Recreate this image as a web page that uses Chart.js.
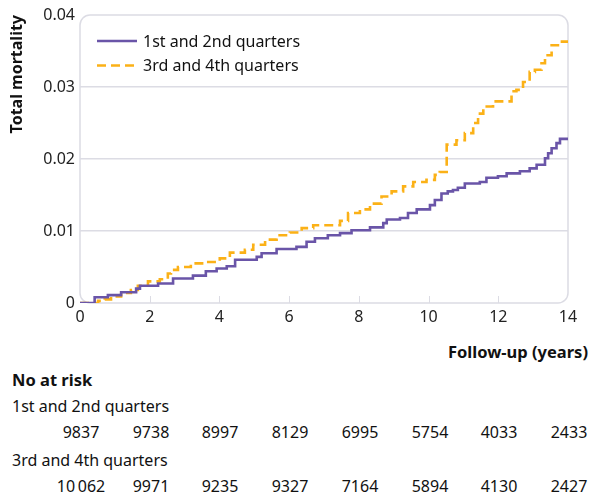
<!DOCTYPE html>
<html>
<head>
<meta charset="utf-8">
<script src="https://cdn.jsdelivr.net/npm/chart.js@4/dist/chart.umd.min.js"></script>
<style>
    body { margin: 0; background: #fff; font-family: "Noto Sans", sans-serif; color: #111; }
    #wrap { position: relative; width: 590px; height: 496px; }
    #chart-box { position: absolute; left: 0; top: 0; width: 590px; height: 330px; }
    .txt { position: absolute; font-size: 16px; line-height: 20px; white-space: nowrap; }
    .bold { font-weight: bold; font-size: 16.5px; }
    .num { text-align: center; width: 80px; }
</style>
</head>
<body>
<div id="wrap">
    <div id="chart-box"><canvas id="chart"></canvas></div>
    <div id="table"></div>
</div>
<script>
// Data
const groups = ['1st and 2nd quarters', '3rd and 4th quarters'];
const xTicks = [0, 2, 4, 6, 8, 10, 12, 14];

const timeA = [0, 0.42, 0.80, 1.18, 1.61, 1.72, 2.24, 2.67, 3.24, 3.61, 3.92, 4.21, 4.45, 5.07, 5.21, 5.64,
    6.21, 6.50, 6.74, 7.11, 7.46, 7.79, 8.32, 8.70, 8.80, 9.18, 9.41, 9.66, 10.04, 10.18, 10.37, 10.55,
    10.70, 10.84, 11.04, 11.47, 11.66, 11.99, 12.24, 12.62, 12.90, 13.10, 13.34, 13.43, 13.53, 13.67, 13.77, 14];
const riskA = [0, 0.0008, 0.0011, 0.0015, 0.0020, 0.0024, 0.0027, 0.0034, 0.0038, 0.0044, 0.0048, 0.0051, 0.0060, 0.0064, 0.0069, 0.0075,
    0.0078, 0.0085, 0.0090, 0.0094, 0.0097, 0.0101, 0.0105, 0.0111, 0.0116, 0.0118, 0.0125, 0.0130, 0.0136, 0.0143, 0.0152, 0.0155,
    0.0157, 0.0160, 0.0166, 0.0168, 0.0174, 0.0176, 0.0180, 0.0183, 0.0187, 0.0192, 0.0201, 0.0208, 0.0215, 0.0222, 0.0228, 0.0228];

const timeB = [0, 0.52, 0.71, 0.89, 1.18, 1.46, 1.66, 1.95, 2.29, 2.52, 2.61, 2.81, 3.18, 3.61, 4.01, 4.30, 4.73, 4.97,
    5.31, 5.64, 6.02, 6.36, 6.69, 7.46, 7.69, 8.03, 8.32, 8.65, 8.94, 9.27, 9.56, 9.94, 10.18, 10.32, 10.52,
    10.80, 11.04, 11.28, 11.42, 11.57, 11.85, 12.38, 12.52, 12.71, 12.90, 13.05, 13.24, 13.34, 13.53, 13.77, 14];
const riskB = [0, 0.0003, 0.0005, 0.0009, 0.0014, 0.0018, 0.0024, 0.0030, 0.0033, 0.0041, 0.0046, 0.0050, 0.0055, 0.0057, 0.0062, 0.0070, 0.0074, 0.0081,
    0.0088, 0.0094, 0.0098, 0.0104, 0.0108, 0.0114, 0.0125, 0.0130, 0.0138, 0.0148, 0.0155, 0.0162, 0.0168, 0.0171, 0.0178, 0.0182, 0.0220,
    0.0226, 0.0236, 0.0250, 0.0263, 0.0273, 0.0280, 0.0294, 0.0296, 0.0307, 0.0321, 0.0324, 0.0333, 0.0344, 0.0358, 0.0363, 0.0363];

const atRiskA = [9837, 9738, 8997, 8129, 6995, 5754, 4033, 2433];
const atRiskB = [10062, 9971, 9235, 9327, 7164, 5894, 4130, 2427];

const PURPLE = '#6a55a8';
const ORANGE = '#fbb117';
const GRID = '#dcdce4';
const FONT = 'Noto Sans';

function fmt(n) {
    // thin space as thousands separator only from 10 000 up
    return n >= 10000 ? String(n).replace(/(\d)(?=(\d{3})$)/, '$1\u2009') : String(n);
}

// --- number at risk table (plain HTML text), centred under the x ticks ---
function renderTable(chart) {
    const el = document.getElementById('table');
    const xs = xTicks.map(t => chart.scales.x.getPixelForValue(t));
    let html = '';
    html += `<div class="txt bold" style="right:2px;top:342px">Follow-up (years)</div>`;
    html += `<div class="txt bold" style="left:12px;top:370px">No at risk</div>`;
    html += `<div class="txt" style="left:12px;top:396px">${groups[0]}</div>`;
    html += `<div class="txt" style="left:12px;top:450px">${groups[1]}</div>`;
    atRiskA.forEach((n, i) => {
        html += `<div class="txt num" style="left:${Math.round(xs[i] + 1 - 40)}px;top:422px">${fmt(n)}</div>`;
    });
    atRiskB.forEach((n, i) => {
        html += `<div class="txt num" style="left:${Math.round(xs[i] + 1 - 40)}px;top:476px">${fmt(n)}</div>`;
    });
    el.innerHTML = html;
}

// --- plot frame, inner ticks and legend ---
const framePlugin = {
    id: 'frame',
    beforeDatasetsDraw(chart) {
        const { ctx, chartArea: a, scales } = chart;
        ctx.save();
        ctx.strokeStyle = GRID;
        ctx.lineWidth = 1.5;
        ctx.beginPath();
        ctx.roundRect(a.left, a.top, a.right - a.left, a.bottom - a.top, 10);
        ctx.stroke();
        ctx.lineWidth = 1;
        xTicks.slice(1, -1).forEach(t => {
            const x = Math.round(scales.x.getPixelForValue(t)) + 0.5;
            ctx.beginPath();
            ctx.moveTo(x, a.bottom);
            ctx.lineTo(x, a.bottom - 7);
            ctx.stroke();
        });
        ctx.restore();
    },
    afterDatasetsDraw(chart) {
        const { ctx, chartArea: a } = chart;
        ctx.save();
        ctx.font = `16px "${FONT}"`;
        ctx.textBaseline = 'middle';
        chart.data.datasets.forEach((ds, i) => {
            const y = a.top + 26 + i * 24.5;
            const x0 = a.left + 17;
            ctx.strokeStyle = ds.borderColor;
            ctx.lineWidth = 2.5;
            ctx.setLineDash(ds.borderDash || []);
            ctx.beginPath();
            ctx.moveTo(x0, y);
            ctx.lineTo(x0 + 40, y);
            ctx.stroke();
            ctx.setLineDash([]);
            ctx.fillStyle = '#111';
            ctx.fillText(ds.label, x0 + 46, y + 1);
        });
        ctx.restore();
    }
};

function renderChart() {
    return new Chart(document.getElementById('chart'), {
        type: 'line',
        data: {
            datasets: [
                { label: groups[0], data: timeA.map((t, i) => ({ x: t, y: riskA[i] })),
                  borderColor: PURPLE, borderWidth: 2.6, stepped: true, pointRadius: 0 },
                { label: groups[1], data: timeB.map((t, i) => ({ x: t, y: riskB[i] })),
                  borderColor: ORANGE, borderWidth: 2.6, borderDash: [9, 5], stepped: true, pointRadius: 0 },
            ]
        },
        options: {
            responsive: true,
            maintainAspectRatio: false,
            animation: false,
            layout: { padding: { top: 15, right: 22, left: 0, bottom: 0 } },
            plugins: { legend: { display: false }, tooltip: { enabled: false } },
            scales: {
                x: {
                    type: 'linear', min: 0, max: 14,
                    afterBuildTicks: s => { s.ticks = xTicks.map(v => ({ value: v })); },
                    afterFit: s => { s.height = 27; },
                    grid: { display: false, drawTicks: false },
                    border: { display: false },
                    ticks: { padding: 5, color: '#222', font: { size: 16, family: FONT }, callback: v => v }
                },
                y: {
                    min: 0, max: 0.04,
                    afterFit: s => { s.width = 80; },
                    grid: { drawTicks: false, color: c => (c.tick.value > 0 && c.tick.value < 0.04) ? GRID : 'transparent', lineWidth: 1.5 },
                    border: { display: false },
                    ticks: { stepSize: 0.01, padding: 5, color: '#222', font: { size: 16, family: FONT },
                             callback: v => v === 0 ? '0' : v.toFixed(2) },
                    title: { display: true, text: 'Total mortality', align: 'end', color: '#111',
                             font: { size: 16, weight: 'bold', family: FONT }, padding: { top: 8, bottom: 0 } }
                }
            }
        },
        plugins: [framePlugin]
    });
}

const chart = renderChart();
renderTable(chart);
</script>
</body>
</html>
